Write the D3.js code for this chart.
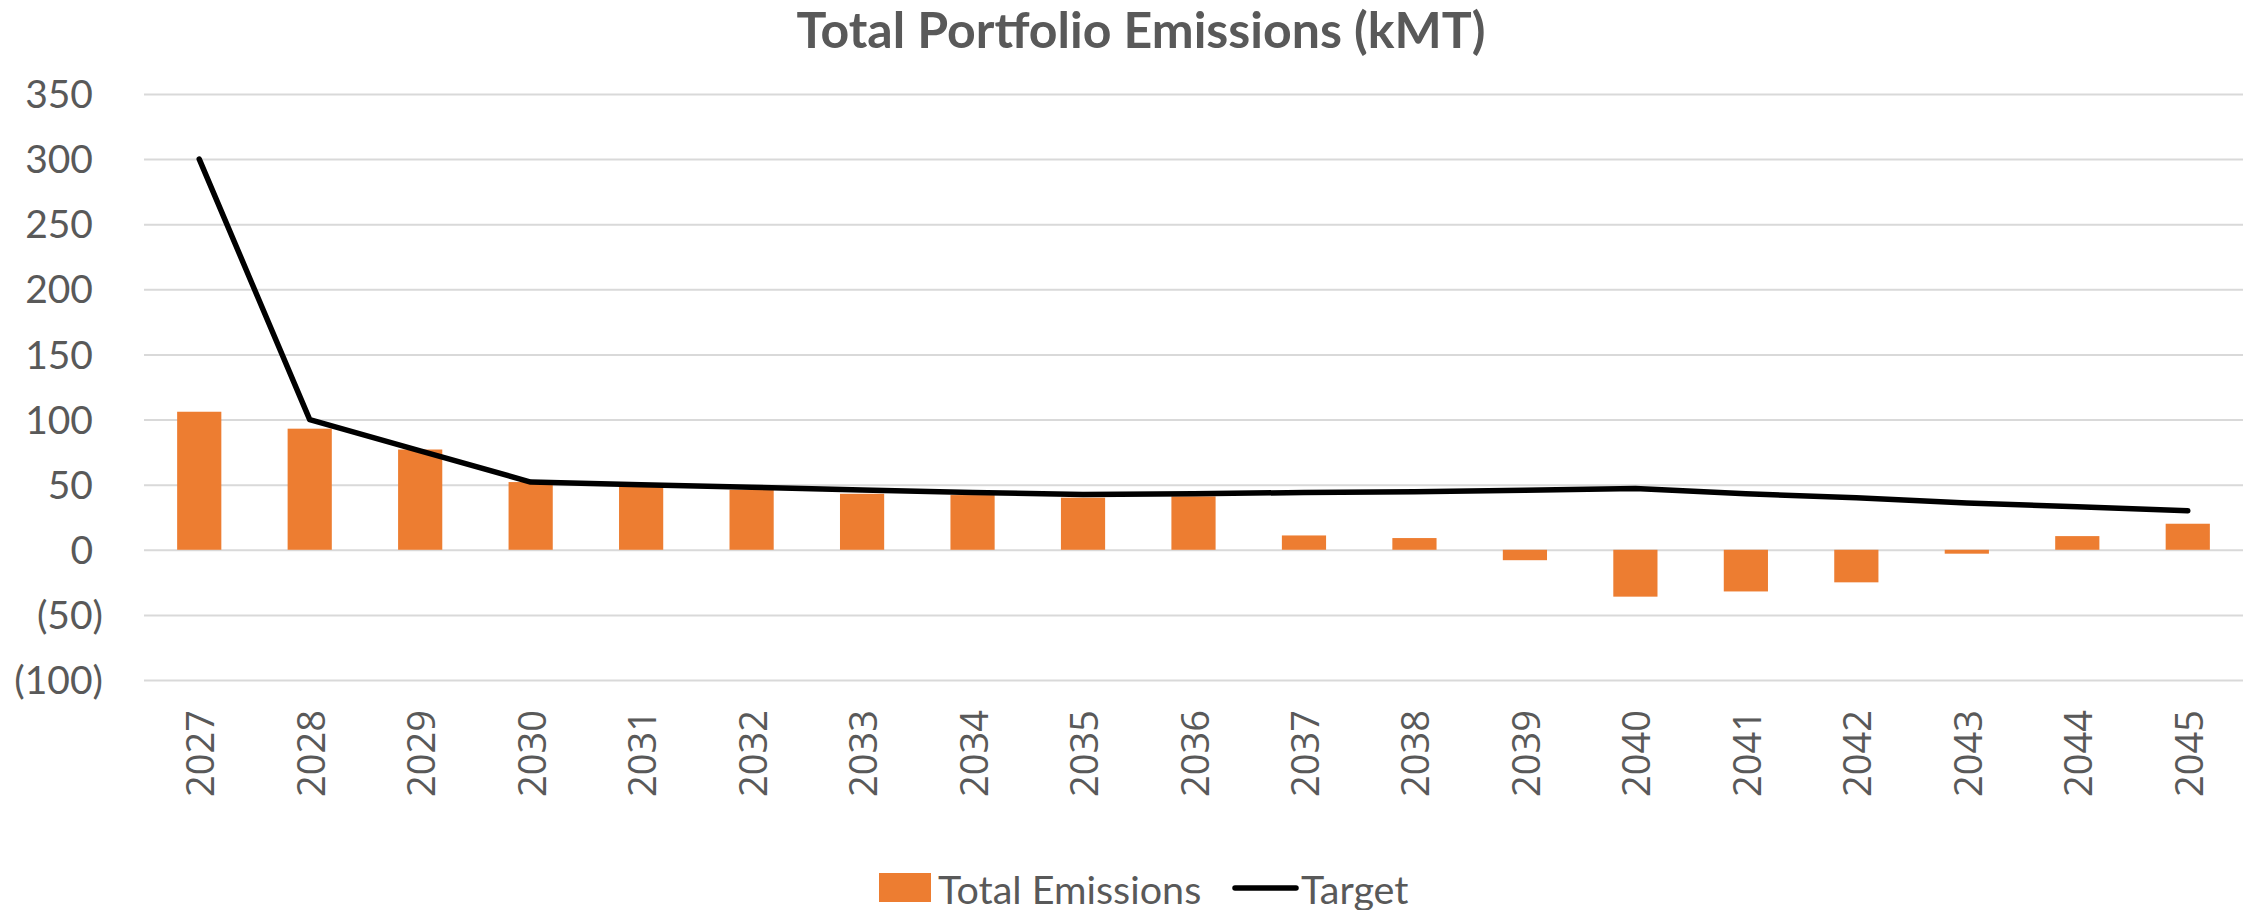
<!DOCTYPE html>
<html>
<head>
<meta charset="utf-8">
<script src="https://cdn.jsdelivr.net/npm/d3@7"></script>
<style>
  body { margin: 0; background: #fff; }
  #chart text { fill: #595959; }
</style>
</head>
<body>
<div id="chart"></div>
<script>
// chart values
var years = ["2027", "2028", "2029", "2030", "2031", "2032", "2033", "2034", "2035", "2036",
             "2037", "2038", "2039", "2040", "2041", "2042", "2043", "2044", "2045"];
var emissions = [106, 93, 77, 52, 49, 46, 43, 42, 40, 41, 11, 9, -8, -36, -32, -25, -3, 10.5, 20];
var target = [300, 100, 76, 52, 50, 48, 46, 44, 42.5, 43, 44, 44.6, 45.7, 47, 43, 40, 36, 33, 30];
var yTicks = [-100, -50, 0, 50, 100, 150, 200, 250, 300, 350];
var seriesNames = ["Total Emissions", "Target"];

var svgWidth = 2252;
var svgHeight = 910;

var margin = {
  top: 94,
  right: 9,
  bottom: 230,
  left: 144
};

var width = svgWidth - margin.left - margin.right;
var height = svgHeight - margin.top - margin.bottom;

var svg = d3.select("#chart")
  .append("svg")
  .attr("width", svgWidth)
  .attr("height", svgHeight);

var chartGroup = svg.append("g")
  .attr("transform", `translate(${margin.left}, ${margin.top})`);

var xScale = d3.scaleBand()
  .domain(years)
  .range([0, width])
  .paddingInner(0.6)
  .paddingOuter(0.3);

var yScale = d3.scaleLinear()
  .domain([-100, 350])
  .range([height, 0]);

// gridlines
chartGroup.append("g")
  .call(d3.axisLeft(yScale).tickValues(yTicks).tickSize(-width).tickFormat(""))
  .call(g => g.select(".domain").remove())
  .selectAll("line")
  .attr("stroke", "#d9d9d9")
  .attr("stroke-width", 2);

// y axis labels, negatives in brackets like Excel
var leftAxis = d3.axisLeft(yScale)
  .tickValues(yTicks)
  .tickSize(0)
  .tickFormat(d => d < 0 ? `(${-d})` : `${d}`);

chartGroup.append("g")
  .call(leftAxis)
  .call(g => g.select(".domain").remove())
  .selectAll("text")
  .attr("x", d => d < 0 ? -41 : -51)
  .attr("dy", "0.35em")
  .style("font-family", "Lato, sans-serif")
  .style("font-size", "39px");

// x axis labels, rotated
var bottomAxis = d3.axisBottom(xScale).tickSize(0);

chartGroup.append("g")
  .attr("transform", `translate(0, ${height})`)
  .call(bottomAxis)
  .call(g => g.select(".domain").remove())
  .selectAll("text")
  .attr("x", 0)
  .attr("y", 0)
  .attr("dy", null)
  .attr("transform", "translate(0, 30) rotate(-90)")
  .attr("dominant-baseline", "central")
  .style("text-anchor", "end")
  .style("font-family", "'Open Sans', sans-serif")
  .style("font-size", "38px");

// bars
chartGroup.selectAll("rect.bar")
  .data(emissions)
  .enter()
  .append("rect")
  .attr("class", "bar")
  .attr("x", (d, i) => xScale(years[i]))
  .attr("y", d => yScale(Math.max(0, d)))
  .attr("width", xScale.bandwidth())
  .attr("height", d => Math.abs(yScale(d) - yScale(0)))
  .attr("fill", "#ED7D31");

// target line
var targetLine = d3.line()
  .x((d, i) => xScale(years[i]) + xScale.bandwidth() / 2)
  .y(d => yScale(d));

chartGroup.append("path")
  .datum(target)
  .attr("d", targetLine)
  .attr("fill", "none")
  .attr("stroke", "#000")
  .attr("stroke-width", 5.5)
  .attr("stroke-linejoin", "round")
  .attr("stroke-linecap", "round");

// title
svg.append("text")
  .attr("x", 1141)
  .attr("y", 48)
  .attr("text-anchor", "middle")
  .style("font-family", "Lato, sans-serif")
  .style("font-weight", "bold")
  .style("font-size", "50px")
  .text("Total Portfolio Emissions (kMT)");

// legend
var legend = svg.append("g")
  .attr("transform", "translate(879, 888)");

legend.append("rect")
  .attr("x", 0)
  .attr("y", -15)
  .attr("width", 52)
  .attr("height", 29)
  .attr("fill", "#ED7D31");

legend.append("text")
  .attr("x", 59)
  .attr("y", 0)
  .attr("dominant-baseline", "central")
  .style("font-family", "Lato, sans-serif")
  .style("font-size", "39.5px")
  .text(seriesNames[0]);

legend.append("line")
  .attr("x1", 356)
  .attr("x2", 417)
  .attr("y1", 0)
  .attr("y2", 0)
  .attr("stroke", "#000")
  .attr("stroke-width", 5.5)
  .attr("stroke-linecap", "round");

legend.append("text")
  .attr("x", 422)
  .attr("y", 0)
  .attr("dominant-baseline", "central")
  .style("font-family", "Lato, sans-serif")
  .style("font-size", "39.5px")
  .text(seriesNames[1]);
</script>
</body>
</html>
